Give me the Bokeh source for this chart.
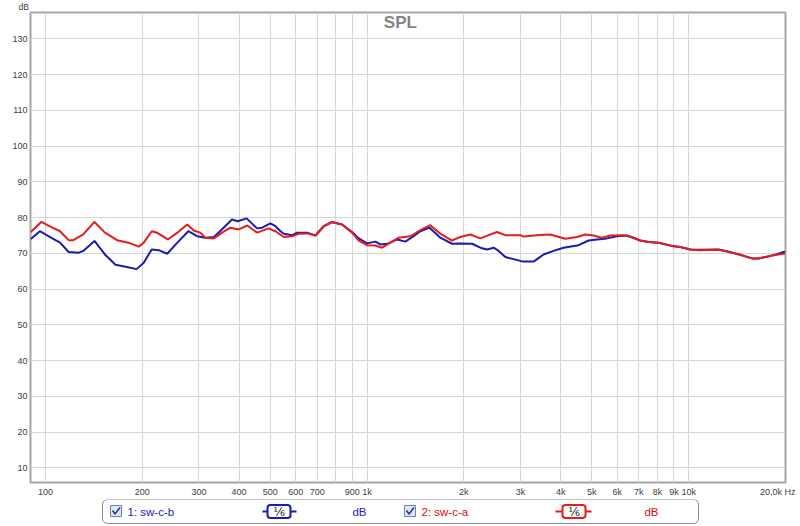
from bokeh.plotting import figure
from bokeh.models import Range1d, FixedTicker, Label, BoxAnnotation, Title
from bokeh.layouts import column
from bokeh.embed import file_html
from bokeh.resources import INLINE
from bokeh.core.properties import value

# ---------------- data ----------------
freq_b = [90, 96, 105, 111, 118, 127, 131, 142, 153, 165, 179, 192, 202, 214, 225, 239, 257, 278,
          296, 314, 334, 358, 380, 396, 422, 455, 472, 500, 519, 538, 551, 585, 606, 651, 691, 733,
          778, 836, 898, 942, 1000, 1061, 1100, 1167, 1240, 1315, 1396, 1465, 1565, 1690, 1838,
          1950, 2121, 2250, 2361, 2475, 2565, 2691, 2856, 2996, 3068, 3296, 3540, 3802, 4084, 4548,
          4885, 5188, 5572, 5986, 6430, 7072, 7506, 8063, 8874, 9417, 10120, 10740, 12390, 13150,
          14470, 15730, 16500, 17930, 18810, 19720, 20000]
spl_b = [74.0, 76.2, 74.2, 73.0, 70.4, 70.2, 70.7, 73.5, 69.7, 66.8, 66.2, 65.6, 67.4, 71.1, 70.9,
         69.9, 73.0, 76.2, 74.8, 74.4, 74.6, 77.2, 79.5, 79.0, 79.8, 77.0, 77.2, 78.4, 77.6, 76.2,
         75.5, 75.1, 75.8, 75.8, 75.0, 77.6, 78.8, 78.1, 76.0, 74.2, 72.8, 73.3, 72.5, 72.8, 73.9,
         73.3, 74.8, 76.2, 77.2, 74.4, 72.7, 72.8, 72.7, 71.6, 71.1, 71.6, 70.7, 69.0, 68.4, 67.9,
         67.7, 67.7, 69.7, 70.7, 71.6, 72.3, 73.6, 73.9, 74.2, 74.8, 75.0, 73.6, 73.2, 73.0, 72.1,
         71.8, 71.1, 71.0, 71.1, 70.6, 69.6, 68.6, 68.6, 69.3, 69.8, 70.4, 70.5]

freq_a = [90, 97, 105, 111, 118, 122, 131, 142, 153, 167, 181, 195, 202, 214, 222, 240, 257, 276,
          289, 303, 314, 334, 354, 376, 399, 424, 455, 494, 519, 551, 585, 613, 651, 691, 733, 778,
          836, 898, 942, 1000, 1061, 1113, 1181, 1254, 1363, 1447, 1573, 1690, 1838, 1950, 2095,
          2250, 2388, 2536, 2691, 2996, 3068, 3377, 3714, 4134, 4496, 4771, 5063, 5377, 5706, 6277,
          6664, 7072, 7506, 8063, 8874, 9417, 10120, 10740, 12390, 13150, 14470, 15730, 16500,
          17930, 18810, 19720, 20000]
spl_a = [76.0, 78.8, 77.2, 76.2, 73.7, 73.7, 75.3, 78.8, 75.8, 73.7, 73.0, 71.9, 73.0, 76.2, 75.8,
         73.9, 75.8, 78.1, 76.4, 75.8, 74.4, 74.2, 75.8, 77.2, 76.7, 77.8, 75.8, 77.0, 76.2, 74.6,
         74.8, 75.5, 75.6, 75.0, 77.6, 78.7, 78.1, 75.8, 73.6, 72.3, 72.2, 71.6, 73.0, 74.4, 74.8,
         76.2, 77.9, 75.5, 73.6, 74.6, 75.3, 74.2, 75.1, 76.0, 75.1, 75.1, 74.7, 75.1, 75.3, 74.1,
         74.6, 75.3, 75.0, 74.4, 75.0, 75.1, 74.6, 73.6, 73.2, 73.0, 72.1, 71.8, 71.1, 70.9, 71.0,
         70.5, 69.6, 68.6, 68.6, 69.3, 69.6, 69.9, 70.0]

x_grid = [100, 200, 300, 400, 500, 600, 700, 800, 900,
          1000, 2000, 3000, 4000, 5000, 6000, 7000, 8000, 9000, 10000]
x_tick_vals = [100, 200, 300, 400, 500, 600, 700, 900,
               1000, 2000, 3000, 4000, 5000, 6000, 7000, 8000, 9000, 10000, 20000]
x_tick_labels = ["100", "200", "300", "400", "500", "600", "700", "900",
                 "1k", "2k", "3k", "4k", "5k", "6k", "7k", "8k", "9k", "10k",
                 "20,0k Hz" + "\u00a0" * 2]
y_ticks = [10, 20, 30, 40, 50, 60, 70, 80, 90, 100, 110, 120, 130]
y_unit_label = "dB"

series_names = ["1: sw-c-b", "2: sw-c-a"]
smoothing = "\u2159"
unit = "dB"

BLUE = "#1a1ab4"
RED = "#e41c1c"
FONT = "Liberation Sans"

# ---------------- main plot ----------------
p = figure(width=800, height=499, x_axis_type="log",
           x_range=Range1d(89.8, 20010), y_range=Range1d(5.9, 137.4),
           output_backend="svg", toolbar_location=None, title=None,
           min_border_left=30, min_border_right=15, min_border_top=11, min_border_bottom=16)
p.background_fill_color = "white"
p.border_fill_color = "white"
p.outline_line_color = "#a6a6a6"
p.outline_line_width = 2

p.add_layout(Title(text=y_unit_label, align="left", offset=-12, standoff=0,
                   text_font=FONT, text_font_size="8.5px", text_font_style="normal",
                   text_color="#404040", vertical_align="middle"), "above")

p.xaxis.ticker = FixedTicker(ticks=x_tick_vals)
p.xaxis.major_label_overrides = {v: l for v, l in zip(x_tick_vals, x_tick_labels)}
p.yaxis.ticker = FixedTicker(ticks=y_ticks)
p.xgrid.ticker = FixedTicker(ticks=x_grid)
p.ygrid.ticker = FixedTicker(ticks=y_ticks)
p.grid.grid_line_color = "#d6d6d6"
p.grid.grid_line_width = 1
for ax in (p.xaxis, p.yaxis):
    ax.axis_line_color = None
    ax.major_tick_line_color = None
    ax.minor_tick_line_color = None
    ax.major_tick_out = 0
    ax.major_tick_in = 0
    ax.minor_tick_out = 0
    ax.minor_tick_in = 0
    ax.major_label_text_font = FONT
    ax.major_label_text_font_size = "9px"
    ax.major_label_text_color = "#404040"
p.xaxis.major_label_standoff = 4
p.yaxis.major_label_standoff = 3

p.line(freq_b, spl_b, line_color=BLUE, line_width=2)
p.line(freq_a, spl_a, line_color=RED, line_width=2)

p.add_layout(Label(x=1269, y=134.6, text="SPL", text_align="center", text_baseline="middle",
                   text_font=FONT, text_font_size="17px", text_font_style="bold",
                   text_color="#858585"))

# ---------------- legend strip ----------------
leg = figure(width=800, height=27, x_range=Range1d(30, 785), y_range=Range1d(526, 499),
             output_backend="svg", toolbar_location=None, title=None,
             x_axis_location=None, y_axis_location=None,
             min_border_left=30, min_border_right=15, min_border_top=0, min_border_bottom=0)
leg.grid.visible = False
leg.outline_line_color = None
leg.background_fill_color = "white"
leg.border_fill_color = "white"

leg.add_layout(BoxAnnotation(left=102, right=698, top=499, bottom=523, border_radius=5,
                             fill_color="white", fill_alpha=1, line_color="#8a8a8a",
                             line_alpha=1, line_width=1, level="underlay"))

entries = [(110, 127, 262, 267, 290, 296, 359, BLUE, "#2020c0"),
           (404, 421, 555, 562, 585, 591, 651, RED, "#e00808")]
for (cb, tx, d0, b0, b1, d1, ux, col, tcol), name in zip(entries, series_names):
    leg.quad(left=[cb], right=[cb + 11], top=[505], bottom=[516],
             fill_color="#dfe7f5", line_color="#6f80a6", line_width=1)
    leg.line([cb + 2, cb + 4.5, cb + 9.5], [510, 513.5, 507], line_color="#283a8c", line_width=1.6)
    leg.text(x=[tx], y=[511], text=[name], text_baseline="middle", text_align="left",
             text_color=tcol, text_font_size="11.5px", text_font=value(FONT))
    leg.segment(x0=[d0], x1=[d1], y0=[511], y1=[511], line_color=col, line_width=2)
    leg.add_layout(BoxAnnotation(left=b0, right=b1, top=504.5, bottom=517.5, border_radius=3,
                                 fill_color="white", fill_alpha=1, line_color=col,
                                 line_alpha=1, line_width=2))
    leg.add_layout(Label(x=(b0 + b1) / 2, y=511, text=smoothing, text_align="center",
                         text_baseline="middle", text_font="DejaVu Sans", text_font_size="12px",
                         text_color="#202020"))
    leg.text(x=[ux], y=[511], text=[unit], text_baseline="middle", text_align="center",
             text_color=tcol, text_font_size="11.5px", text_font=value(FONT))

layout = column(p, leg, spacing=0)
open("out.html", "w").write(file_html(layout, INLINE))
